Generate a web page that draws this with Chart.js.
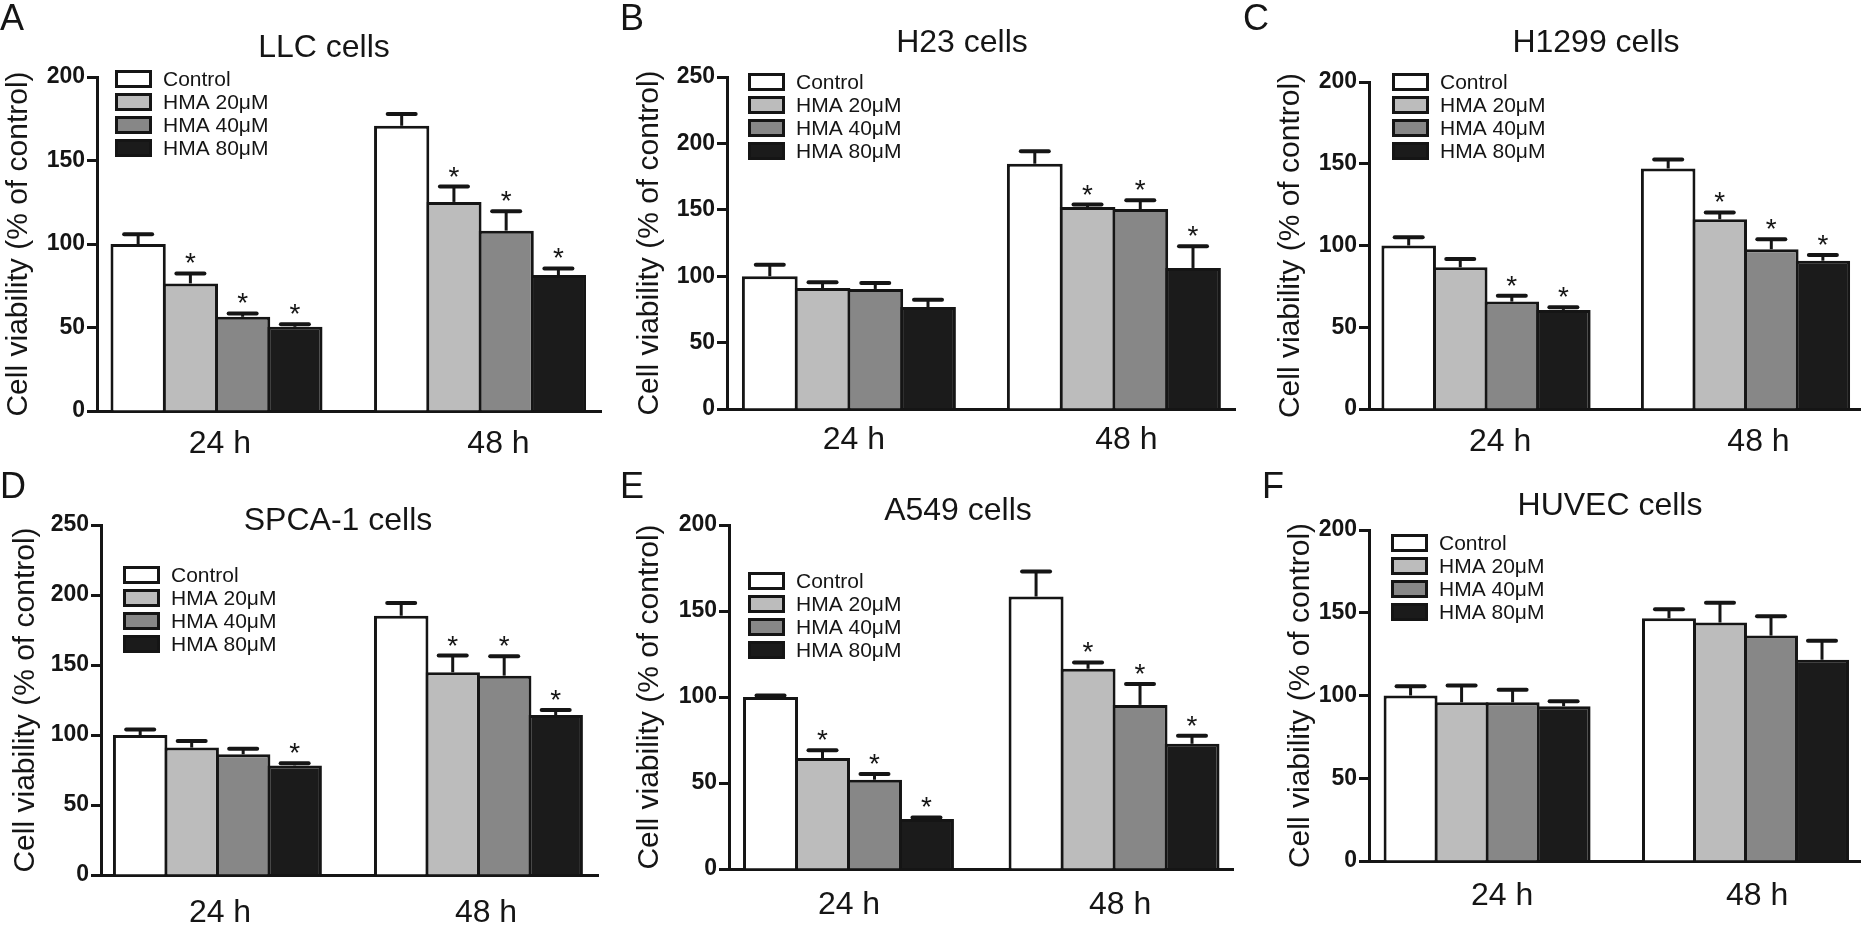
<!DOCTYPE html>
<html>
<head>
<meta charset="utf-8">
<title>Cell viability</title>
<script src="https://cdn.jsdelivr.net/npm/chart.js@4.4.1/dist/chart.umd.min.js"></script>
<style>
  html, body { margin: 0; padding: 0; background: #fff; }
  #board { position: relative; width: 1861px; height: 927px; overflow: hidden; }
  #board canvas { position: absolute; }
</style>
</head>
<body>
<div id="board"></div>
<script>
const timePoints = ['24 h', '48 h'];
const treatments = ['Control', 'HMA 20μM', 'HMA 40μM', 'HMA 80μM'];
const fills = ['#ffffff', '#bcbcbc', '#878787', '#1b1b1b'];
const ink = '#151515';
const yTitle = 'Cell viability (% of control)';

// mean and error per treatment, each as [24 h, 48 h]
const llcMean = [[100, 170.8], [76.4, 125.2], [56.4, 108], [50.4, 81.4]];
const llcErr  = [[5.8, 7], [6, 9.2], [2, 11.6], [1.6, 4]];
const llcStar = [[0, 0], [1, 1], [1, 1], [1, 1]];

const h23Mean = [[100, 184.7], [91.1, 152.1], [90.4, 150.6], [76.8, 106.2]];
const h23Err  = [[8.7, 9.3], [4.3, 1.8], [4.5, 6.5], [5.5, 16.3]];
const h23Star = [[0, 0], [0, 1], [0, 1], [0, 1]];

const h1299Mean = [[100, 147.1], [86.7, 116], [65.7, 97.7], [60.6, 90.7]];
const h1299Err  = [[5, 5.5], [5, 4.2], [3.5, 6.1], [1.7, 3.5]];
const h1299Star = [[0, 0], [0, 1], [1, 1], [1, 1]];

const spcaMean = [[100, 185.2], [91, 144.8], [86.2, 142.4], [78.3, 114.2]];
const spcaErr  = [[4, 9], [4.8, 11.9], [4, 13.8], [1.5, 3.6]];
const spcaStar = [[0, 0], [0, 1], [0, 1], [1, 1]];

const a549Mean = [[100, 158.4], [64.5, 116.4], [51.9, 95.4], [29, 72.8]];
const a549Err  = [[0.8, 14.5], [4.5, 3.7], [3.3, 12.2], [1, 4.6]];
const a549Star = [[0, 0], [1, 1], [1, 1], [1, 1]];

const huvecMean = [[100, 146.7], [95.9, 144.1], [95.9, 136.2], [93.5, 121.6]];
const huvecErr  = [[5.6, 5.4], [10.2, 12], [7.6, 11.7], [3, 11.5]];
const huvecStar = [[0, 0], [0, 0], [0, 0], [0, 0]];

const yMaxes = [200, 250, 200, 250, 200, 200];

Chart.defaults.font.family = "'Liberation Sans', Arial, sans-serif";
Chart.defaults.color = ink;

// panel placement on the page (pixels); labelAt = where the "24 h"/"48 h" text sits on the x scale
const panels = [
  { letter: 'A', title: 'LLC cells', mean: llcMean, err: llcErr, star: llcStar, yMax: yMaxes[0],
    left: 0, top: 0, w: 620, h: 463, axisX: 97, yTop: 77, y0: 411, right: 601,
    xMin: -0.4535, xMax: 1.459, cat: 0.793, labelAt: [0.013, 1.07], labelPad: 14,
    titleX: 324, titleY: 48, letterX: 0, letterY: 30, legX: 115, legY: 79, padLeft: 0 },
  { letter: 'B', title: 'H23 cells', mean: h23Mean, err: h23Err, star: h23Star, yMax: yMaxes[1],
    left: 620, top: 0, w: 620, h: 463, axisX: 107, yTop: 77, y0: 409, right: 615,
    xMin: -0.46, xMax: 1.457, cat: 0.796, labelAt: [0.019, 1.047], labelPad: 12,
    titleX: 342, titleY: 43, letterX: 0, letterY: 30, legX: 128, legY: 82, padLeft: 11 },
  { letter: 'C', title: 'H1299 cells', mean: h1299Mean, err: h1299Err, star: h1299Star, yMax: yMaxes[2],
    left: 1240, top: 0, w: 621, h: 463, axisX: 129, yTop: 82, y0: 409, right: 621,
    xMin: -0.451, xMax: 1.445, cat: 0.798, labelAt: [0.054, 1.05], labelPad: 14,
    titleX: 356, titleY: 43, letterX: 3, letterY: 30, legX: 152, legY: 82, padLeft: 32 },
  { letter: 'D', title: 'SPCA-1 cells', mean: spcaMean, err: spcaErr, star: spcaStar, yMax: yMaxes[3],
    left: 0, top: 463, w: 620, h: 464, axisX: 101, yTop: 62, y0: 412, right: 598,
    xMin: -0.446, xMax: 1.458, cat: 0.789, labelAt: [0.01, 1.029], labelPad: 19,
    titleX: 338, titleY: 58, letterX: 0, letterY: 35, legX: 123, legY: 112, padLeft: 7 },
  { letter: 'E', title: 'A549 cells', mean: a549Mean, err: a549Err, star: a549Star, yMax: yMaxes[4],
    left: 620, top: 463, w: 620, h: 464, axisX: 109, yTop: 62, y0: 406, right: 613,
    xMin: -0.45, xMax: 1.448, cat: 0.783, labelAt: [0.002, 1.023], labelPad: 17,
    titleX: 338, titleY: 48, letterX: 0, letterY: 35, legX: 128, legY: 118, padLeft: 11 },
  { letter: 'F', title: 'HUVEC cells', mean: huvecMean, err: huvecErr, star: huvecStar, yMax: yMaxes[5],
    left: 1240, top: 463, w: 621, h: 464, axisX: 129, yTop: 67, y0: 398, right: 621,
    xMin: -0.457, xMax: 1.447, cat: 0.80, labelAt: [0.058, 1.045], labelPad: 16,
    titleX: 370, titleY: 43, letterX: 22, letterY: 35, legX: 151, legY: 80, padLeft: 42 }
];

// up-only error bars with caps, plus the significance stars
const errorBars = {
  id: 'errorBars',
  afterDatasetsDraw(chart) {
    const ctx = chart.ctx;
    const yScale = chart.scales.y;
    ctx.save();
    ctx.strokeStyle = ink;
    ctx.fillStyle = ink;
    ctx.font = "28px 'Liberation Sans'";
    ctx.textAlign = 'center';
    ctx.textBaseline = 'alphabetic';
    chart.data.datasets.forEach((ds, i) => {
      chart.getDatasetMeta(i).data.forEach((bar, j) => {
        const top = yScale.getPixelForValue(ds.data[j].y + ds.err[j]);
        ctx.lineWidth = 3;
        ctx.lineCap = 'butt';
        ctx.beginPath();
        ctx.moveTo(bar.x, bar.y);
        ctx.lineTo(bar.x, top);
        ctx.stroke();
        ctx.lineWidth = 4;
        ctx.lineCap = 'round';
        ctx.beginPath();
        ctx.moveTo(bar.x - 14, top);
        ctx.lineTo(bar.x + 14, top);
        ctx.stroke();
        if (ds.star[j]) ctx.fillText('*', bar.x, top - 1);
      });
    });
    ctx.restore();
  }
};

// legend boxes stacked inside the plot
const boxLegend = {
  id: 'boxLegend',
  afterDraw(chart, args, opts) {
    const ctx = chart.ctx;
    ctx.save();
    ctx.font = "21px 'Liberation Sans'";
    ctx.textBaseline = 'middle';
    chart.data.datasets.forEach((ds, i) => {
      const y = opts.y + i * 23;
      ctx.fillStyle = ds.backgroundColor;
      ctx.fillRect(opts.x, y - 9, 37, 18);
      ctx.lineWidth = 3;
      ctx.strokeStyle = ink;
      ctx.strokeRect(opts.x + 1.5, y - 7.5, 34, 15);
      ctx.fillStyle = ink;
      ctx.fillText(ds.label, opts.x + 48, y + 1);
    });
    ctx.restore();
  }
};

// panel letter and title
const panelText = {
  id: 'panelText',
  afterDraw(chart, args, opts) {
    const ctx = chart.ctx;
    ctx.save();
    ctx.fillStyle = ink;
    ctx.font = "36px 'Liberation Sans'";
    ctx.textAlign = 'left';
    ctx.textBaseline = 'alphabetic';
    ctx.fillText(opts.letter, opts.letterX, opts.letterY);
    ctx.font = "32px 'Liberation Sans'";
    ctx.textAlign = 'center';
    ctx.textBaseline = 'middle';
    ctx.fillText(opts.title, opts.titleX, opts.titleY);
    ctx.restore();
  }
};

const board = document.getElementById('board');

panels.forEach(p => {
  const cv = document.createElement('canvas');
  cv.width = p.w;
  cv.height = p.h;
  cv.style.left = p.left + 'px';
  cv.style.top = p.top + 'px';
  board.appendChild(cv);

  new Chart(cv, {
    type: 'bar',
    data: {
      datasets: treatments.map((t, i) => ({
        label: t,
        data: p.mean[i].map((v, j) => ({ x: j, y: v })),
        err: p.err[i],
        star: p.star[i],
        backgroundColor: fills[i],
        borderColor: ink,
        borderWidth: 3,
        categoryPercentage: p.cat,
        barPercentage: 1.058
      }))
    },
    options: {
      responsive: false,
      animation: false,
      devicePixelRatio: 1,
      layout: { padding: { left: p.padLeft, top: p.yTop, right: p.w - p.right, bottom: 0 } },
      plugins: {
        legend: { display: false },
        tooltip: { enabled: false },
        boxLegend: { x: p.legX, y: p.legY },
        panelText: { letter: p.letter, letterX: p.letterX, letterY: p.letterY,
                     title: p.title, titleX: p.titleX, titleY: p.titleY }
      },
      scales: {
        x: {
          type: 'linear',
          offset: false,
          min: p.xMin,
          max: p.xMax,
          grid: { display: false, drawTicks: false },
          border: { display: true, color: ink, width: 3 },
          ticks: { font: { size: 32 }, color: ink, padding: p.labelPad, callback: (v, i) => timePoints[i] },
          afterBuildTicks: s => { s.ticks = p.labelAt.map(v => ({ value: v })); },
          afterFit: s => { s.height = p.h - p.y0; }
        },
        y: {
          min: 0,
          max: p.yMax,
          ticks: { stepSize: 50, font: { size: 23, weight: 'bold' }, color: ink, padding: 2 },
          grid: { drawOnChartArea: false, drawTicks: true, tickLength: 10, tickWidth: 3, tickColor: ink },
          border: { display: true, color: ink, width: 3 },
          title: { display: true, text: yTitle, font: { size: 30 }, color: ink, padding: { top: 1, bottom: 0 } },
          afterFit: s => { s.width = p.axisX - p.padLeft; }
        }
      }
    },
    plugins: [errorBars, boxLegend, panelText]
  });
});
</script>
</body>
</html>
